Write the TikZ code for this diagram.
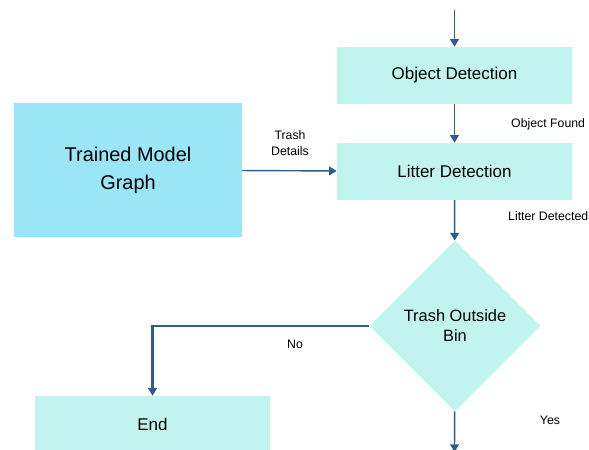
\documentclass[tikz,border=0pt]{standalone}
\usepackage{fontspec}
\setmainfont{Liberation Sans}
\usetikzlibrary{shapes.geometric,arrows.meta}
\definecolor{kasten}{HTML}{C2F4EF}
\definecolor{modell}{HTML}{9AE5F6}
\definecolor{pfeilblau}{HTML}{2A5D90}

\begin{document}
\begin{tikzpicture}[x=0.03cm,y=-0.03cm,
  box/.style={fill=kasten,minimum width=7.05cm,minimum height=1.71cm,inner sep=0pt,font=\fontsize{14.5}{17}\selectfont},
  raute/.style={diamond,aspect=1,fill=kasten,minimum width=5.13cm,minimum height=5.13cm,inner sep=0pt,align=center,font=\fontsize{14}{17}\selectfont},
  lbl/.style={font=\fontsize{10.5}{13.5}\selectfont,inner sep=0pt},
  >={Triangle[length=6.5pt,width=7.5pt]}]
\clip (0,0) rectangle (589,450);
\def\pfeil#1#2{\draw[->,pfeilblau,line width=1.2pt] (#1) -- (#2);}
\node[box] at (454.5,75.5) (objekt) {Object Detection};
\node[box] at (454.5,171.5) (litter) {Litter Detection};
\node[box,fill=modell,minimum width=6.84cm,minimum height=4.02cm,align=center,font=\fontsize{17}{24}\selectfont] at (128,170) (modell) {Trained Model\\Graph};
\node[raute] at (455,326) (trash) {Trash Outside\\Bin};
\node[box] at (152.5,424.5) (ende) {End};
\coordinate (start) at (454.5,10);
\coordinate (weiter) at (454.5,452);

\pfeil{start}{objekt}
\pfeil{objekt}{litter}
\pfeil{modell}{litter}
\pfeil{litter}{trash}
\pfeil{trash}{weiter}
\draw[->,pfeilblau,line width=1.8pt] (trash.west) -| (ende.north);

\node[lbl,anchor=west] at (511,124) (found) {Object Found};
\node[lbl,anchor=west] at (508,216) (detected) {Litter Detected};
\node[lbl,align=center] at (290,143.5) (details) {Trash\\Details};
\node[lbl] at (295,344) (nein) {No};
\node[lbl] at (550,420) (ja) {Yes};
\end{tikzpicture}
\end{document}
